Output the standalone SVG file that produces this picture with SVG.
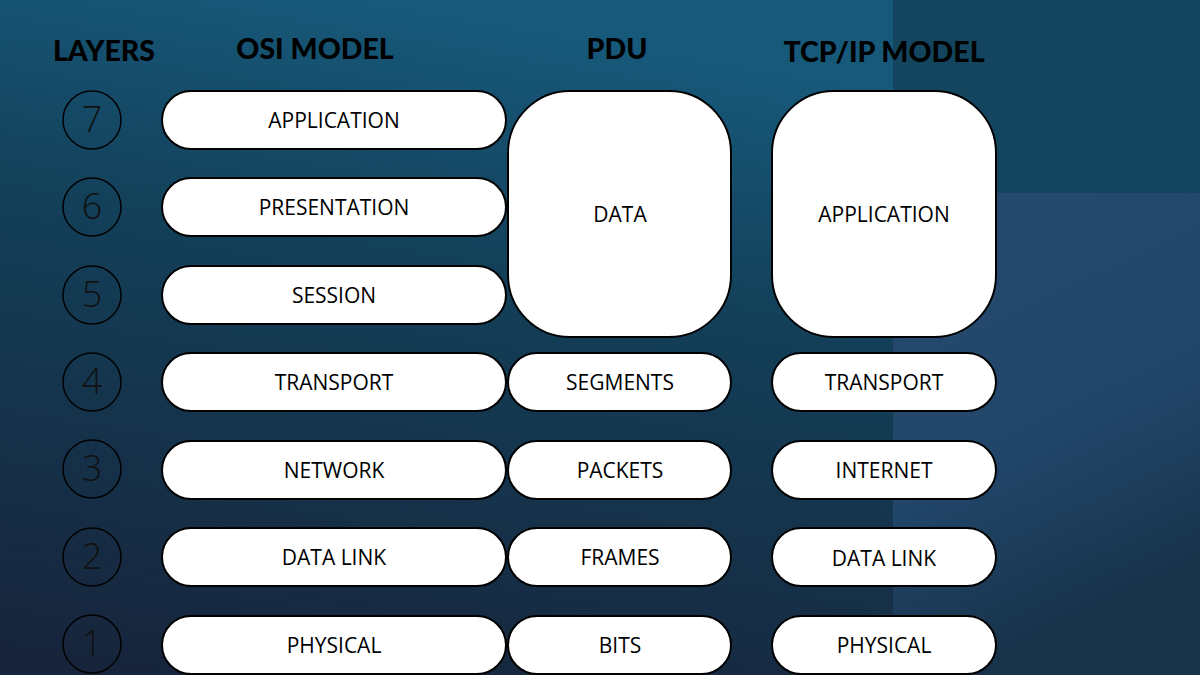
<svg xmlns="http://www.w3.org/2000/svg" width="1200" height="675" viewBox="0 0 1200 675">
<defs>
<linearGradient id="bg" x1="0.3" y1="0" x2="0" y2="1"><stop offset="0" stop-color="#17597a"/><stop offset="0.35" stop-color="#133f58"/><stop offset="1" stop-color="#17233a"/></linearGradient>
<linearGradient id="bg2" x1="0" y1="0" x2="0.3" y2="1"><stop offset="0" stop-color="#274b6e"/><stop offset="0.6" stop-color="#21466a"/><stop offset="1" stop-color="#173249"/></linearGradient>
</defs>
<style>
.h{font-family:"Lato","Open Sans",sans-serif;font-weight:900;font-size:28.5px;fill:#000;text-anchor:middle}
.b{fill:#fff;stroke:#000;stroke-width:2}
.t{font-family:"Open Sans","Liberation Sans",sans-serif;font-size:21px;fill:#000;text-anchor:middle;dominant-baseline:central}
.c{fill:none;stroke:#000;stroke-width:1.5}
.n{font-family:"Open Sans","Liberation Sans",sans-serif;font-size:36px;fill:#111;text-anchor:middle;dominant-baseline:central;font-weight:300}
</style>
<rect width="1200" height="675" fill="url(#bg)"/>
<rect x="893" y="0" width="307" height="193" fill="#14455e"/>
<rect x="893" y="193" width="307" height="482" fill="url(#bg2)"/>
<text class="h" x="104" y="61">LAYERS</text>
<text class="h" x="315" y="59">OSI MODEL</text>
<text class="h" x="617" y="59">PDU</text>
<text class="h" x="884" y="62">TCP/IP MODEL</text>
<g id="layers">
<circle class="c" cx="92" cy="120" r="29"/><text class="n" x="92" y="118">7</text>
<circle class="c" cx="92" cy="207" r="29"/><text class="n" x="92" y="205">6</text>
<circle class="c" cx="92" cy="295" r="29"/><text class="n" x="92" y="293">5</text>
<circle class="c" cx="92" cy="382" r="29"/><text class="n" x="92" y="380">4</text>
<circle class="c" cx="92" cy="469" r="29"/><text class="n" x="92" y="467">3</text>
<circle class="c" cx="92" cy="557" r="29"/><text class="n" x="92" y="555">2</text>
<circle class="c" cx="92" cy="644" r="29"/><text class="n" x="92" y="642">1</text>
</g>
<g id="osi-application"><rect class="b" x="162" y="91" width="344" height="58" rx="29"/><text class="t" x="334" y="120">APPLICATION</text></g>
<g id="osi-presentation"><rect class="b" x="162" y="178" width="344" height="58" rx="29"/><text class="t" x="334" y="207">PRESENTATION</text></g>
<g id="osi-session"><rect class="b" x="162" y="266" width="344" height="58" rx="29"/><text class="t" x="334" y="295">SESSION</text></g>
<g id="osi-transport"><rect class="b" x="162" y="353" width="344" height="58" rx="29"/><text class="t" x="334" y="382">TRANSPORT</text></g>
<g id="osi-network"><rect class="b" x="162" y="441" width="344" height="58" rx="29"/><text class="t" x="334" y="470">NETWORK</text></g>
<g id="osi-datalink"><rect class="b" x="162" y="528" width="344" height="58" rx="29"/><text class="t" x="334" y="557">DATA LINK</text></g>
<g id="osi-physical"><rect class="b" x="162" y="616" width="344" height="58" rx="29"/><text class="t" x="334" y="645">PHYSICAL</text></g>
<g id="pdu-data"><rect class="b" x="508" y="91" width="223" height="246" rx="62"/><text class="t" x="620" y="214">DATA</text></g>
<g id="pdu-segments"><rect class="b" x="508" y="353" width="223" height="58" rx="29"/><text class="t" x="620" y="382">SEGMENTS</text></g>
<g id="pdu-packets"><rect class="b" x="508" y="441" width="223" height="58" rx="29"/><text class="t" x="620" y="470">PACKETS</text></g>
<g id="pdu-frames"><rect class="b" x="508" y="528" width="223" height="58" rx="29"/><text class="t" x="620" y="557">FRAMES</text></g>
<g id="pdu-bits"><rect class="b" x="508" y="616" width="223" height="58" rx="29"/><text class="t" x="620" y="645">BITS</text></g>
<g id="tcp-application"><rect class="b" x="772" y="91" width="224" height="246" rx="62"/><text class="t" x="884" y="214">APPLICATION</text></g>
<g id="tcp-transport"><rect class="b" x="772" y="353" width="224" height="58" rx="29"/><text class="t" x="884" y="382">TRANSPORT</text></g>
<g id="tcp-internet"><rect class="b" x="772" y="441" width="224" height="58" rx="29"/><text class="t" x="884" y="470">INTERNET</text></g>
<g id="tcp-datalink"><rect class="b" x="772" y="528" width="224" height="58" rx="29"/><text class="t" x="884" y="558">DATA LINK</text></g>
<g id="tcp-physical"><rect class="b" x="772" y="616" width="224" height="58" rx="29"/><text class="t" x="884" y="645">PHYSICAL</text></g>
<g id="connectors"/>
</svg>
